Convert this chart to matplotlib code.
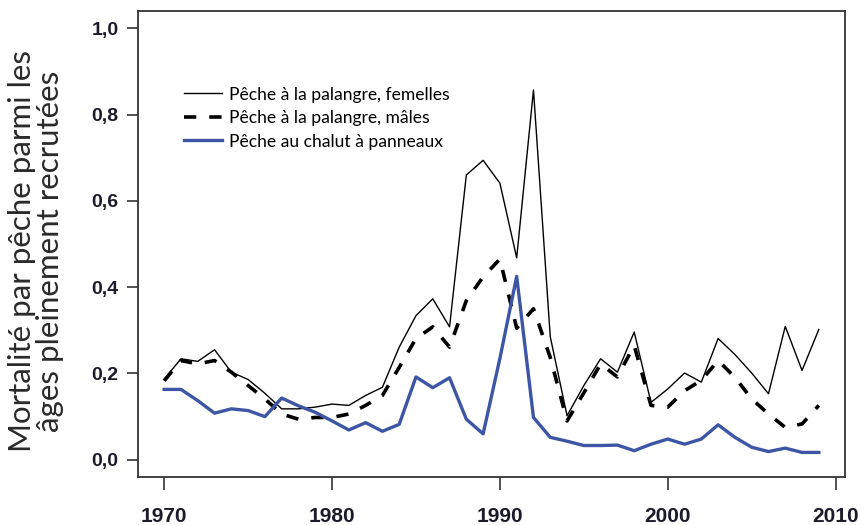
import matplotlib

matplotlib.use("Agg")

import matplotlib.pyplot as plt
import numpy as np
from matplotlib.ticker import FuncFormatter

years = np.arange(1970, 2010)

# Pêche à la palangre, femelles
females = [0.187, 0.234, 0.228, 0.255, 0.203, 0.186, 0.154, 0.118, 0.118, 0.122,
           0.129, 0.126, 0.149, 0.168, 0.261, 0.334, 0.373, 0.308, 0.660, 0.694,
           0.641, 0.468, 0.857, 0.285, 0.102, 0.172, 0.234, 0.203, 0.296, 0.133,
           0.164, 0.201, 0.180, 0.281, 0.244, 0.201, 0.153, 0.309, 0.207, 0.302]

# Pêche à la palangre, mâles
males = [0.183, 0.230, 0.222, 0.230, 0.203, 0.172, 0.141, 0.106, 0.094, 0.098,
         0.098, 0.106, 0.126, 0.149, 0.214, 0.281, 0.308, 0.261, 0.369, 0.424,
         0.465, 0.305, 0.350, 0.237, 0.090, 0.155, 0.222, 0.192, 0.265, 0.126,
         0.122, 0.160, 0.184, 0.230, 0.191, 0.141, 0.106, 0.075, 0.083, 0.126]

# Pêche au chalut à panneaux
trawl = [0.163, 0.163, 0.137, 0.108, 0.118, 0.114, 0.100, 0.143, 0.125, 0.110,
         0.090, 0.069, 0.086, 0.066, 0.082, 0.192, 0.167, 0.190, 0.094, 0.060,
         0.235, 0.425, 0.098, 0.052, 0.043, 0.033, 0.033, 0.034, 0.021, 0.036,
         0.048, 0.036, 0.048, 0.081, 0.052, 0.029, 0.019, 0.027, 0.017, 0.017]

labels = ["Pêche à la palangre, femelles",
          "Pêche à la palangre, mâles",
          "Pêche au chalut à panneaux"]

x_ticks = [1970, 1980, 1990, 2000, 2010]
y_ticks = [0.0, 0.2, 0.4, 0.6, 0.8, 1.0]

BLUE = "#3D55A5"
TICK_COLOR = "#1b1b2b"
TEXT_FONT = ["Lato", "DejaVu Sans"]
TICK_FONT = ["Liberation Sans", "DejaVu Sans"]

fig = plt.figure(figsize=(8.62, 5.25), dpi=100)
ax = fig.add_axes((0.1601, 0.0914, 0.8202, 0.8876))

ax.plot(years, females, color="black", lw=1.0, label=labels[0])
ax.plot(years, males, color="black", lw=2.6, dashes=(3.4, 3.6), label=labels[1])
ax.plot(years, trawl, color=BLUE, lw=2.4, label=labels[2])

# R-style 4 % padding around the data range
ax.set_xlim(1968.44, 2010.56)
ax.set_ylim(-0.04, 1.04)

ax.set_xticks(x_ticks)
ax.set_yticks(y_ticks)
ax.yaxis.set_major_formatter(FuncFormatter(lambda v, _: f"{v:.1f}".replace(".", ",")))

ax.tick_params(axis="x", direction="out", length=9.4, width=1.1, pad=12,
               color="#222222", labelcolor=TICK_COLOR, labelsize=15)
ax.tick_params(axis="y", direction="out", length=8, width=1.1, pad=6,
               color="#222222", labelcolor=TICK_COLOR, labelsize=14)
for lab in ax.get_xticklabels() + ax.get_yticklabels():
    lab.set_family(TICK_FONT)
    lab.set_fontweight("bold")

for sp in ax.spines.values():
    sp.set_linewidth(1.3)
    sp.set_color("#333333")

leg = ax.legend(loc="upper left", bbox_to_anchor=(0.055, 0.853), frameon=False,
                prop={"family": TEXT_FONT, "size": 12.6}, handlelength=2.2,
                handletextpad=0.4, labelspacing=0.43, borderaxespad=0)

fig.text(0.042, 0.522, "Mortalité par pêche parmi les\nâges pleinement recrutées",
         rotation=90, ha="center", va="center", multialignment="center",
         family=TEXT_FONT, fontsize=22.5, color="#2a2a2a", linespacing=1.0)

fig.savefig("out.png", dpi=100)
plt.close(fig)
